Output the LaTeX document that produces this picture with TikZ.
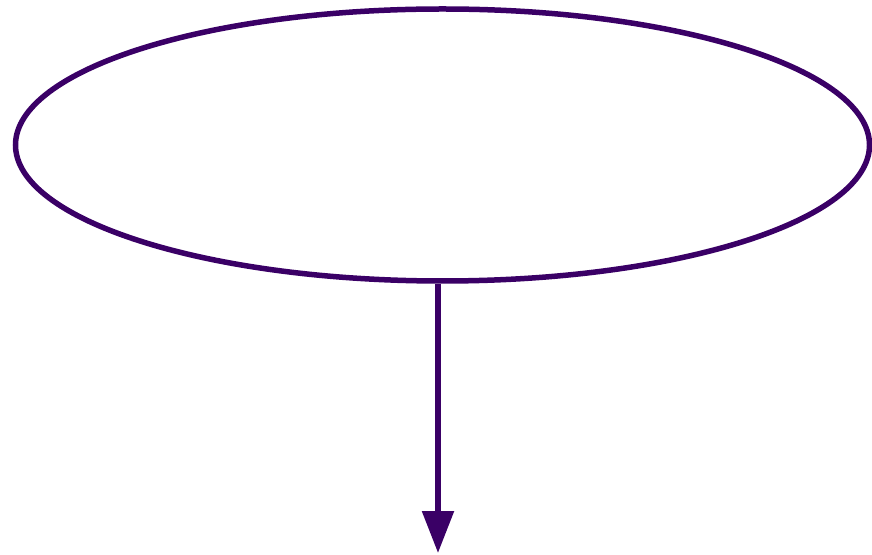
\documentclass[tikz,border=0pt]{standalone}
\usetikzlibrary{shapes.geometric,arrows.meta}
\definecolor{dpurple}{HTML}{3A0066}
\begin{document}
\begin{tikzpicture}[x=1pt,y=1pt,
  oval/.style={ellipse,draw=dpurple,line width=5.5pt,inner sep=0pt,minimum width=854pt,minimum height=272pt},
  conn/.style={draw=dpurple,line width=5.5pt,-{Triangle[length=42pt,width=31pt]},fill=dpurple}]
\useasboundingbox (0,0) rectangle (872,554);
\node[oval] (e) at (442.5,409) {};
\coordinate (tip) at (438,1);
\draw[conn] (e.south -| tip) -- (tip);
\end{tikzpicture}
\end{document}
